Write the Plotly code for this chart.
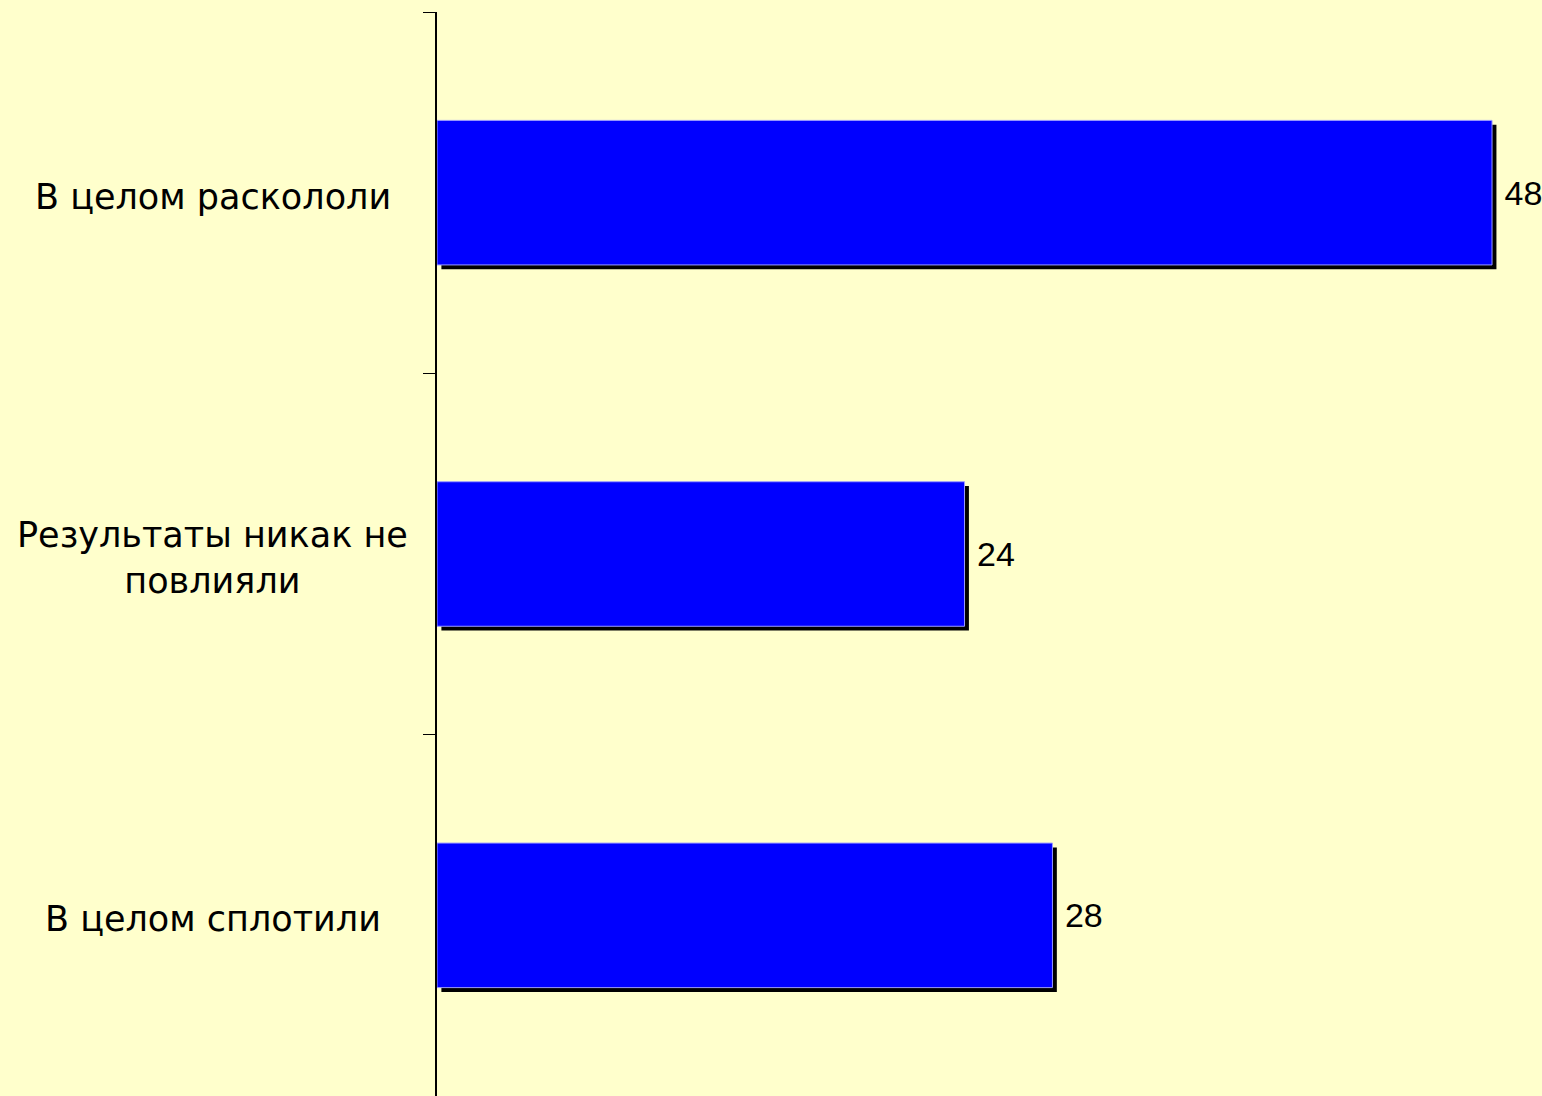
"""Horizontal bar chart with drop shadow, Excel-like style."""

import plotly.graph_objects as go

categories = ["В целом раскололи", "Результаты никак не<br>повлияли", "В целом сплотили"]
values = [48, 24, 28]

BG = "#FFFFCC"
BAR = "#0000FF"
LABEL_FONT = "DejaVu Sans, Arial, sans-serif"
VALUE_FONT = "Liberation Sans, Arial, sans-serif"

fig = go.Figure()

# black drop shadow, nudged right and down
fig.add_trace(
    go.Bar(
        y=categories,
        x=values,
        base=0.2,
        orientation="h",
        width=0.4,
        offset=-0.2 + 0.012,
        marker=dict(color="black", line=dict(width=0)),
        hoverinfo="skip",
        showlegend=False,
    )
)
fig.add_trace(
    go.Bar(
        y=categories,
        x=values,
        orientation="h",
        width=0.4,
        offset=-0.2,
        marker=dict(color=BAR, line=dict(color="#9a9aff", width=1)),
        texttemplate="\u00a0%{x}",
        textposition="outside",
        textfont=dict(family=VALUE_FONT, size=34, color="black"),
        cliponaxis=False,
        showlegend=False,
    )
)

for cat in categories:
    fig.add_annotation(
        x=-0.204,
        xref="paper",
        y=cat,
        yref="y",
        yshift=-4,
        text=cat,
        showarrow=False,
        xanchor="center",
        align="center",
        font=dict(family=LABEL_FONT, size=35, color="black"),
    )

fig.update_layout(
    width=1542,
    height=1096,
    paper_bgcolor=BG,
    plot_bgcolor=BG,
    barmode="overlay",
    margin=dict(l=437, r=6, t=12, b=0),
    xaxis=dict(
        range=[0, 50],
        showgrid=False,
        zeroline=False,
        showticklabels=False,
        showline=False,
        ticks="",
    ),
    yaxis=dict(
        autorange="reversed",
        showgrid=False,
        showticklabels=False,
        showline=True,
        linecolor="black",
        linewidth=2,
        ticks="outside",
        tickson="boundaries",
        ticklen=12,
        tickcolor="black",
        tickwidth=1,
    ),
)

fig.write_html(
    "out.html",
    config={"displayModeBar": False},
    post_script="document.body.style.margin='0';document.body.style.background='#FFFFCC';",
)
